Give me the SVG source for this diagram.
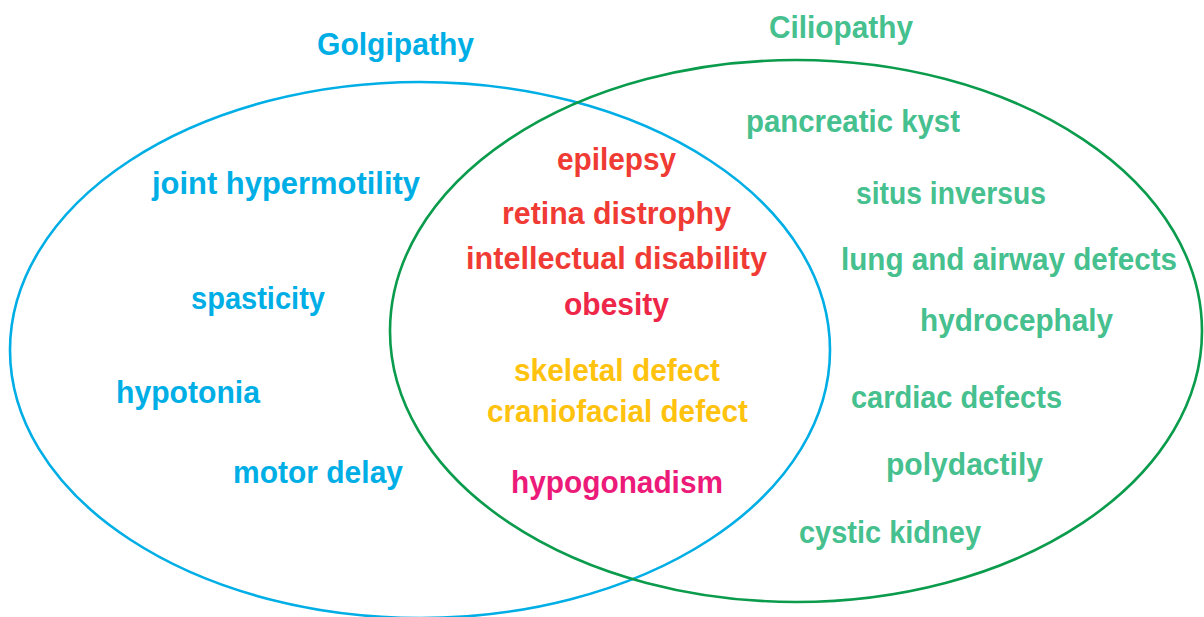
<svg xmlns="http://www.w3.org/2000/svg" width="1204" height="617" viewBox="0 0 1204 617">
<style>
text{font-family:"Liberation Sans",Arial,sans-serif;font-weight:bold;font-size:31.5px}
.b{fill:#00aee6}
.g{fill:#45c08e}
.r{fill:#f03a34}
.y{fill:#ffc20e}
.m{fill:#ec1a78}
.o{fill:#ee2648}
.ring{fill:none;stroke-width:2.6}
</style>
<rect width="1204" height="617" fill="#ffffff"/>
<g id="golgipathy-set">
<ellipse class="ring" cx="420" cy="350" rx="410" ry="268" stroke="#00aee6"/>
<text class="b" x="317" y="55" textLength="157" lengthAdjust="spacingAndGlyphs">Golgipathy</text>
</g>
<g id="ciliopathy-set">
<ellipse class="ring" cx="796" cy="331" rx="406" ry="271" stroke="#0a9c4c"/>
<text class="g" x="769" y="38" textLength="144" lengthAdjust="spacingAndGlyphs">Ciliopathy</text>
</g>
<g id="golgi-items">
<text class="b" x="152" y="194" textLength="268" lengthAdjust="spacingAndGlyphs">joint hypermotility</text>
<text class="b" x="191" y="309" textLength="134" lengthAdjust="spacingAndGlyphs">spasticity</text>
<text class="b" x="116" y="403" textLength="144" lengthAdjust="spacingAndGlyphs">hypotonia</text>
<text class="b" x="233" y="483" textLength="170" lengthAdjust="spacingAndGlyphs">motor delay</text>
</g>
<g id="shared-items">
<text class="r" x="557" y="170" textLength="119" lengthAdjust="spacingAndGlyphs">epilepsy</text>
<text class="r" x="502" y="224" textLength="229" lengthAdjust="spacingAndGlyphs">retina distrophy</text>
<text class="r" x="466" y="269" textLength="301" lengthAdjust="spacingAndGlyphs">intellectual disability</text>
<text class="o" x="564" y="315" textLength="105" lengthAdjust="spacingAndGlyphs">obesity</text>
<text class="y" x="514" y="381" textLength="206" lengthAdjust="spacingAndGlyphs">skeletal defect</text>
<text class="y" x="487" y="422" textLength="261" lengthAdjust="spacingAndGlyphs">craniofacial defect</text>
<text class="m" x="511" y="493" textLength="212" lengthAdjust="spacingAndGlyphs">hypogonadism</text>
</g>
<g id="cilia-items">
<text class="g" x="746" y="132" textLength="214" lengthAdjust="spacingAndGlyphs">pancreatic kyst</text>
<text class="g" x="856" y="204" textLength="190" lengthAdjust="spacingAndGlyphs">situs inversus</text>
<text class="g" x="841" y="270" textLength="336" lengthAdjust="spacingAndGlyphs">lung and airway defects</text>
<text class="g" x="920" y="331" textLength="193" lengthAdjust="spacingAndGlyphs">hydrocephaly</text>
<text class="g" x="851" y="408" textLength="211" lengthAdjust="spacingAndGlyphs">cardiac defects</text>
<text class="g" x="886" y="475" textLength="157" lengthAdjust="spacingAndGlyphs">polydactily</text>
<text class="g" x="799" y="543" textLength="182" lengthAdjust="spacingAndGlyphs">cystic kidney</text>
</g>
<g id="connectors"></g>
</svg>
